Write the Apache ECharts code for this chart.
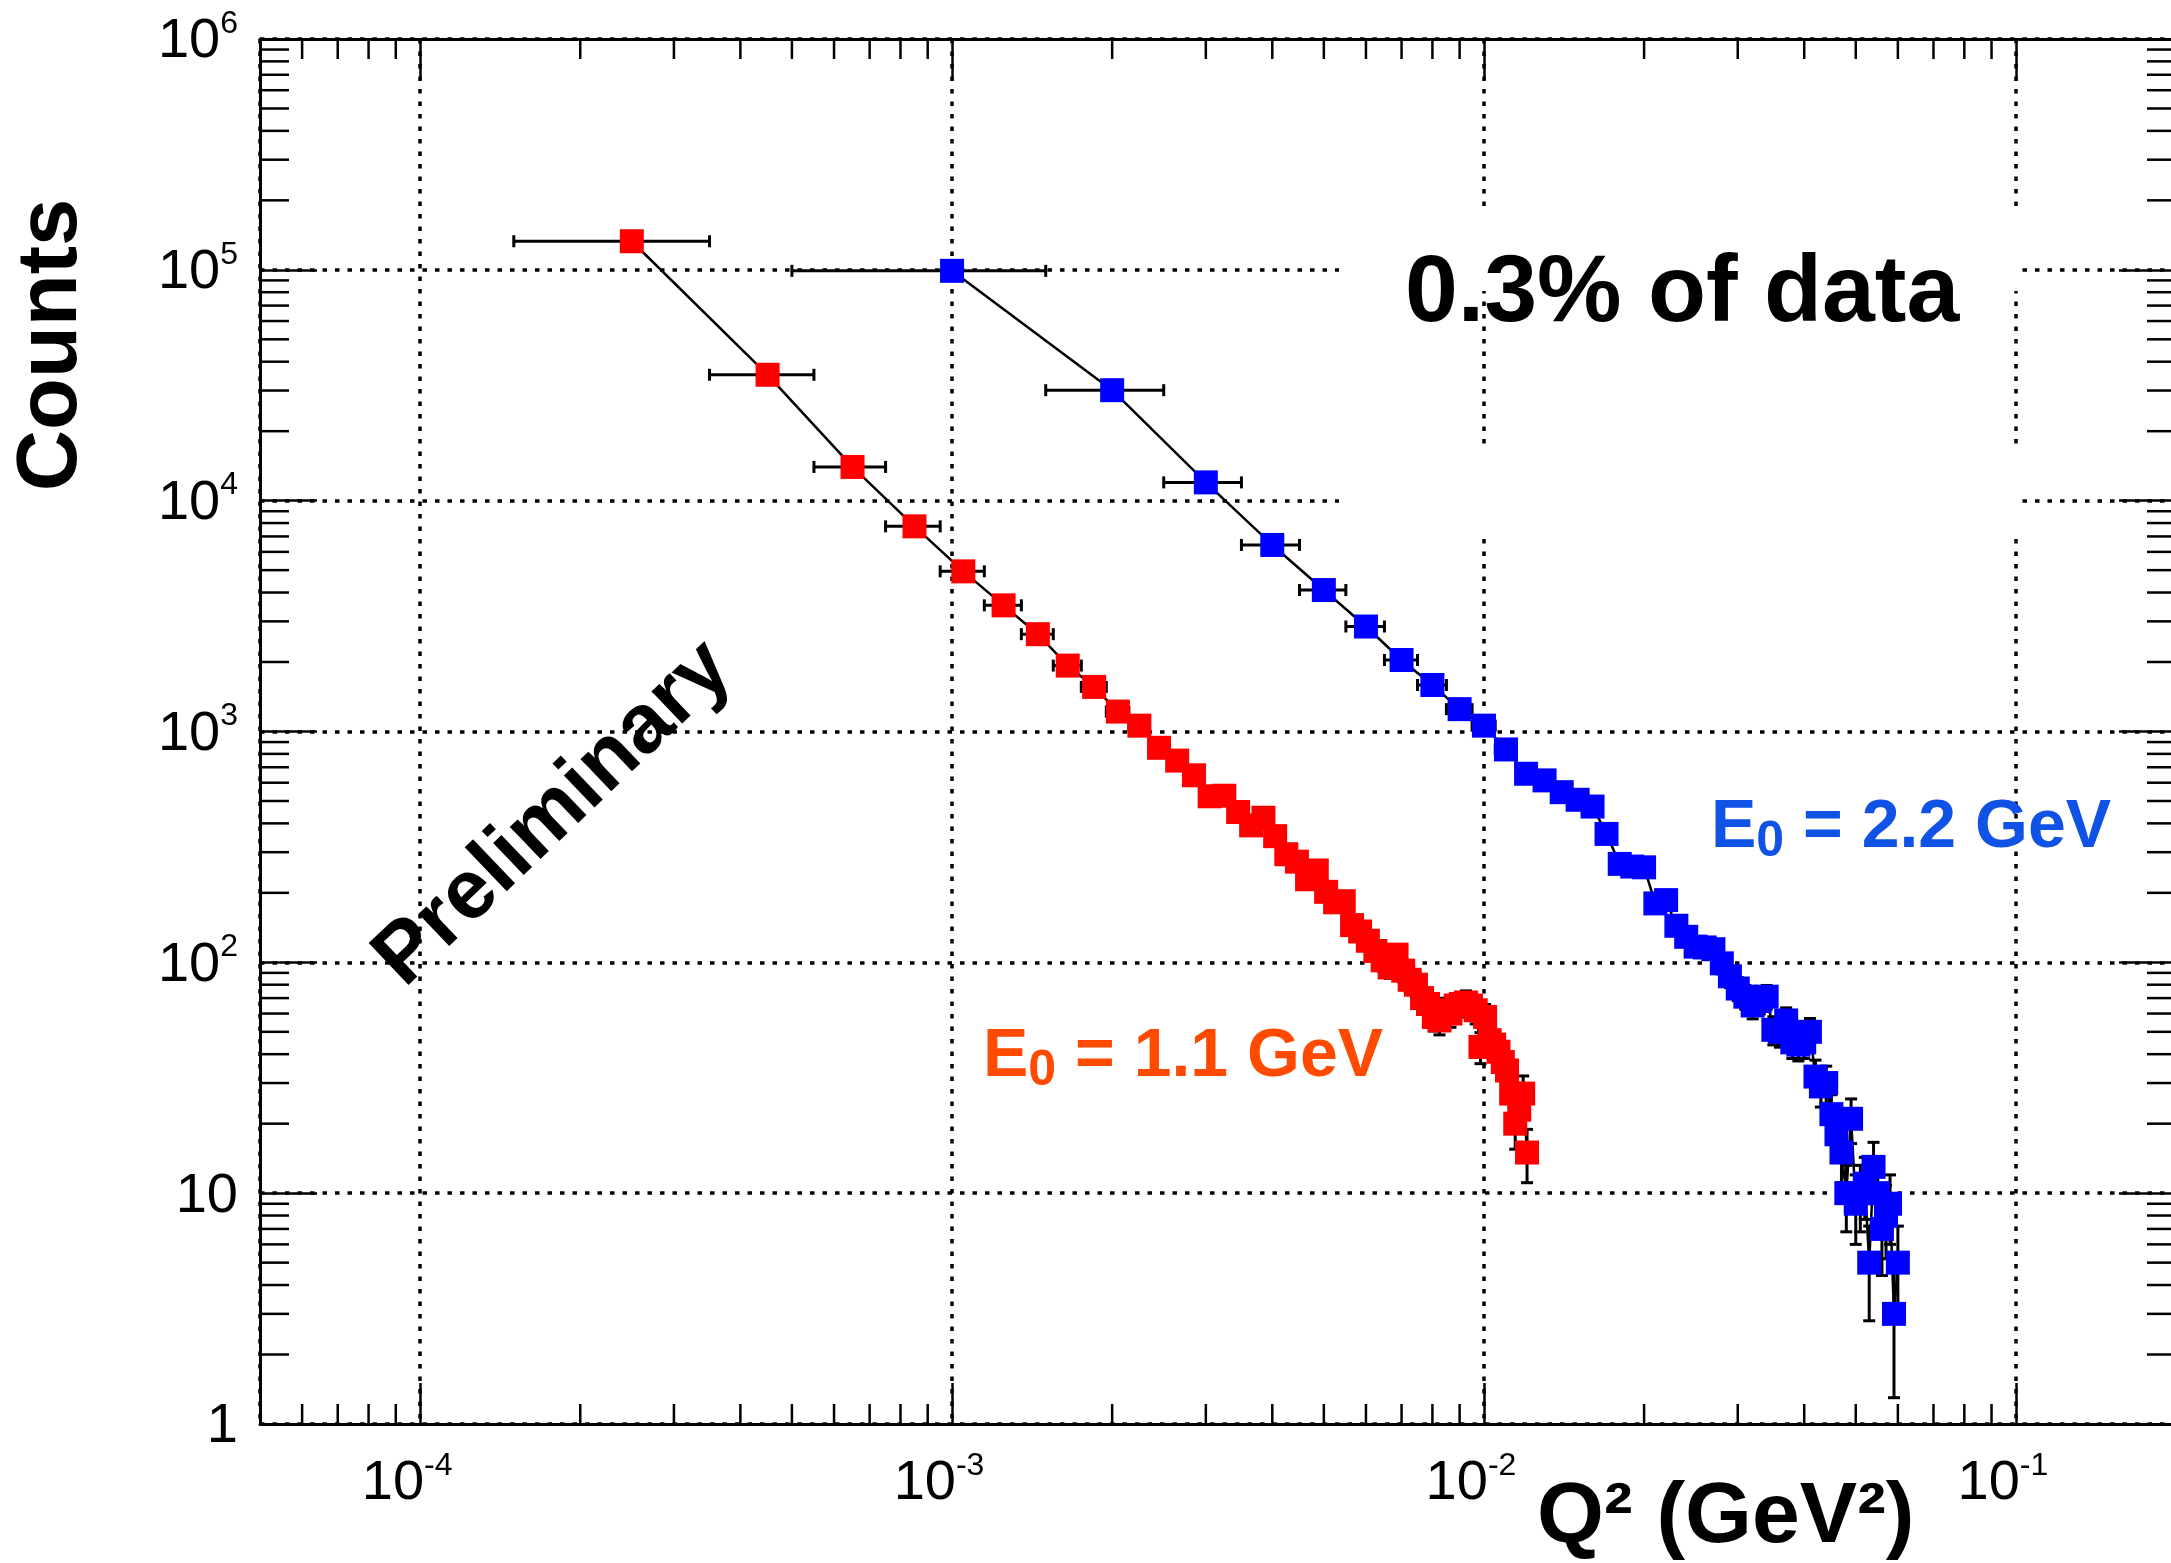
<!DOCTYPE html>
<html>
<head>
<meta charset="utf-8">
<title>Counts vs Q2</title>
<script src="https://cdn.jsdelivr.net/npm/echarts@6/dist/echarts.min.js"></script>
<style>
  html, body { margin: 0; padding: 0; background: #fff; }
  #chart { width: 2171px; height: 1563px; }
</style>
</head>
<body>
<div id="chart"></div>
<script>
// E0 = 1.1 GeV : bin centres (GeV^2), counts, vertical errors
const q2Low = [
  0.00025, 0.00045, 0.00065, 0.00085, 0.00105, 0.00125, 0.00145, 0.00165, 0.00185, 0.00205,
  0.00225, 0.00245, 0.00265, 0.00285, 0.00305, 0.00325, 0.00345, 0.00365, 0.00385, 0.00405,
  0.00425, 0.00445, 0.00465, 0.00485, 0.00505, 0.00525, 0.00545, 0.00565, 0.00585, 0.00605,
  0.00625, 0.00645, 0.00665, 0.00685, 0.00705, 0.00725, 0.00745, 0.00765, 0.00785, 0.00805,
  0.00825, 0.00845, 0.00865, 0.00885, 0.00905, 0.00925, 0.00945, 0.00965, 0.00985, 0.01005,
  0.01025, 0.01045, 0.01065, 0.01085, 0.01105, 0.01125, 0.01145, 0.01165, 0.01185, 0.01205
];
const countsLow = [
  133000, 35100, 14000, 7740, 4940, 3520, 2640, 1930, 1560, 1220,
  1060, 850, 748, 646, 524, 527, 448, 392, 423, 352,
  294, 273, 229, 250, 202, 182, 184, 145, 136, 124,
  112, 102, 95, 108, 92, 84, 80, 70, 66, 58,
  56, 62, 60, 65, 66, 67, 65, 62, 43, 58,
  46, 44, 41, 37, 34, 27, 20, 23, 27, 15
];
const errLow = [
  365, 187, 118, 88, 70, 59, 51, 44, 39.5, 35,
  32.6, 29.2, 27.3, 25.4, 22.9, 23, 21.2, 19.8, 20.6, 18.8,
  17.1, 16.5, 15.1, 15.8, 14.2, 13.5, 13.6, 12, 11.7, 11.1,
  10.6, 10.1, 9.7, 10.4, 9.6, 9.2, 8.9, 8.4, 8.1, 7.6,
  7.5, 7.9, 7.7, 8.1, 8.1, 8.2, 8.1, 7.9, 6.6, 7.6,
  6.8, 6.6, 6.4, 6.1, 5.8, 5.2, 4.5, 4.8, 5.2, 3.9
];

// E0 = 2.2 GeV
const q2High = [
  0.001, 0.002, 0.003, 0.004, 0.005, 0.006, 0.007, 0.008, 0.009, 0.010,
  0.011, 0.012, 0.013, 0.014, 0.015, 0.016, 0.017, 0.018, 0.019, 0.020,
  0.021, 0.022, 0.023, 0.024, 0.025, 0.026, 0.027, 0.028, 0.029, 0.030,
  0.031, 0.032, 0.033, 0.034, 0.035, 0.036, 0.037, 0.038, 0.039, 0.040,
  0.041, 0.042, 0.043, 0.044, 0.045, 0.046, 0.047, 0.048, 0.049, 0.050,
  0.051, 0.052, 0.053, 0.054, 0.055, 0.056, 0.057, 0.058, 0.059, 0.060
];
const countsHigh = [
  99000, 30100, 12000, 6430, 4100, 2850, 2040, 1590, 1250, 1060,
  836, 656, 614, 546, 506, 473, 360, 267, 260, 258,
  180, 186, 144, 129, 117, 116, 114, 99, 87, 77,
  71, 65, 68, 71, 51, 50, 56, 45, 44, 45,
  50, 32, 29, 30, 22, 18, 15, 10, 21, 9,
  10, 11, 5, 13, 10, 7, 8, 9, 3, 5
];
const errHigh = [
  315, 173, 110, 80, 64, 53, 45, 40, 35, 32.6,
  28.9, 25.6, 24.8, 23.4, 22.5, 21.7, 19, 16.3, 16.1, 16.1,
  13.4, 13.6, 12, 11.4, 10.8, 10.8, 10.7, 9.9, 9.3, 8.8,
  8.4, 8.1, 8.2, 8.4, 7.1, 7.1, 7.5, 6.7, 6.6, 6.7,
  7.1, 5.7, 5.4, 5.5, 4.7, 4.2, 3.9, 3.2, 4.6, 3,
  3.2, 3.3, 2.2, 3.6, 3.2, 2.6, 2.8, 3, 1.7, 2.2
];

// half bin widths (horizontal error bars)
const halfBinLow = 0.0001;
const halfBinHigh = 0.0005;

const yPlainLabels = { 1: '1', 10: '10' };

const FONT = '"Liberation Sans", Arial, Helvetica, sans-serif';
const X_MIN = 5e-5, X_MAX = 0.2, Y_MIN = 1, Y_MAX = 1e6;

const chart = echarts.init(document.getElementById('chart'));

function minorValues(lo, hi) {
  const out = [];
  for (let e = Math.floor(Math.log10(lo)); e <= Math.ceil(Math.log10(hi)); e++) {
    for (let m = 2; m <= 9; m++) {
      const v = m * Math.pow(10, e);
      if (v > lo * 1.0001 && v < hi * 0.9999) out.push(v);
    }
  }
  return out;
}

function seg(x1, y1, x2, y2, w) {
  return { type: 'line', shape: { x1, y1, x2, y2 }, style: { stroke: '#000', lineWidth: w || 2.5 } };
}

function errorBars(halfBin) {
  return function (params, api) {
    const x = api.value(0), y = api.value(1), e = api.value(2);
    const l = api.coord([x - halfBin, y]);
    const r = api.coord([x + halfBin, y]);
    const t = api.coord([x, y + e]);
    const b = api.coord([x, Math.max(y - e, Y_MIN)]);
    const c = 6;
    return {
      type: 'group',
      children: [
        seg(l[0], l[1], r[0], r[1], 3),
        seg(l[0], l[1] - c, l[0], l[1] + c, 3),
        seg(r[0], r[1] - c, r[0], r[1] + c, 3),
        seg(t[0], t[1], b[0], b[1], 3),
        seg(t[0] - c, t[1], t[0] + c, t[1], 3),
        seg(b[0] - c, b[1], b[0] + c, b[1], 3)
      ]
    };
  };
}

function xMinorTicks(params, api) {
  const v = api.value(0);
  const b = api.coord([v, Y_MIN]);
  const t = api.coord([v, Y_MAX]);
  return { type: 'group', children: [seg(b[0], b[1], b[0], b[1] - 20), seg(t[0], t[1], t[0], t[1] + 20)] };
}

function yMinorTicks(params, api) {
  const v = api.value(1);
  const l = api.coord([X_MIN, v]);
  const r = api.coord([X_MAX, v]);
  return { type: 'group', children: [seg(l[0], l[1], l[0] + 29, l[1]), seg(r[0], r[1], r[0] - 29, r[1])] };
}

const supRich = {
  b: { fontSize: 56, fontFamily: FONT, color: '#000', verticalAlign: 'bottom', padding: [6, 0, 0, 0] },
  s: { fontSize: 32, fontFamily: FONT, color: '#000', verticalAlign: 'top' }
};

function powLabel(v) {
  const k = Math.round(Math.log10(v));
  return '{b|10}{s|' + k + '}';
}

const gridDots = { color: '#000', width: 3.5, type: [4.5, 8] };
const frameLine = { show: true, lineStyle: { color: '#000', width: 3 } };

chart.setOption({
  animation: false,
  backgroundColor: '#fff',
  grid: { left: 260, top: 39, width: 1916, height: 1385, containLabel: false, outerBoundsMode: 'none' },
  xAxis: [
    {
      type: 'log', logBase: 10, min: X_MIN, max: X_MAX, position: 'bottom',
      axisLine: frameLine,
      axisTick: { inside: true, length: 41, lineStyle: { color: '#000', width: 2.5 } },
      axisLabel: {
        margin: 26, formatter: powLabel, rich: supRich, padding: [0, 26, 0, 0],
        showMinLabel: false, showMaxLabel: false
      },
      splitLine: { show: true, lineStyle: gridDots }
    },
    {
      type: 'log', logBase: 10, min: X_MIN, max: X_MAX, position: 'top',
      axisLine: frameLine,
      axisTick: { inside: true, length: 41, lineStyle: { color: '#000', width: 2.5 } },
      axisLabel: { show: false },
      splitLine: { show: false }
    }
  ],
  yAxis: [
    {
      type: 'log', logBase: 10, min: Y_MIN, max: Y_MAX, position: 'left',
      axisLine: frameLine,
      axisTick: { inside: true, length: 57, lineStyle: { color: '#000', width: 2.5 } },
      axisLabel: {
        margin: 22,
        formatter: v => yPlainLabels[v] ? '{b|' + yPlainLabels[v] + '}' : powLabel(v),
        rich: supRich
      },
      splitLine: { show: true, lineStyle: gridDots }
    },
    {
      type: 'log', logBase: 10, min: Y_MIN, max: Y_MAX, position: 'right',
      axisLine: frameLine,
      axisTick: { inside: true, length: 57, lineStyle: { color: '#000', width: 2.5 } },
      axisLabel: { show: false },
      splitLine: { show: false }
    }
  ],
  graphic: [
    { type: 'rect', z: 1, shape: { x: 1339, y: 207, width: 679, height: 84 }, style: { fill: '#fff' } },
    { type: 'rect', z: 1, shape: { x: 1339, y: 447, width: 679, height: 88 }, style: { fill: '#fff' } },
    {
      type: 'text', z: 10, x: 1405, y: 295,
      style: { text: '0.3% of data', font: 'bold 95px ' + FONT, fill: '#000', align: 'left', verticalAlign: 'middle' }
    },
    {
      type: 'text', z: 10, x: 53, y: 345, rotation: Math.PI / 2,
      style: { text: 'Counts', font: 'bold 85px ' + FONT, fill: '#000', align: 'center', verticalAlign: 'middle' }
    },
    {
      type: 'text', z: 10, x: 1537, y: 1518,
      style: { text: 'Q² (GeV²)', font: 'bold 86px ' + FONT, fill: '#000', align: 'left', verticalAlign: 'middle' }
    },
    {
      type: 'text', z: 10, x: 554, y: 814, rotation: 43.7 * Math.PI / 180,
      style: { text: 'Preliminary', font: 'bold 84px ' + FONT, fill: '#000', align: 'center', verticalAlign: 'middle' }
    },
    {
      type: 'text', z: 10, x: 983, y: 1060,
      style: {
        text: '{a|E}{s|0}{a| = 1.1 GeV}', align: 'left', verticalAlign: 'middle',
        rich: {
          a: { font: 'bold 68px ' + FONT, fill: '#ff4a00', verticalAlign: 'bottom', padding: [0, 0, 5, 0] },
          s: { font: 'bold 50px ' + FONT, fill: '#ff4a00', verticalAlign: 'bottom' }
        }
      }
    },
    {
      type: 'text', z: 10, x: 1711, y: 831,
      style: {
        text: '{a|E}{s|0}{a| = 2.2 GeV}', align: 'left', verticalAlign: 'middle',
        rich: {
          a: { font: 'bold 68px ' + FONT, fill: '#1152e6', verticalAlign: 'bottom', padding: [0, 0, 5, 0] },
          s: { font: 'bold 50px ' + FONT, fill: '#1152e6', verticalAlign: 'bottom' }
        }
      }
    }
  ],
  series: [
    {
      type: 'custom', name: 'xMinor', silent: true, clip: false, z: 1,
      renderItem: xMinorTicks, data: minorValues(X_MIN, X_MAX).map(v => [v, Y_MIN])
    },
    {
      type: 'custom', name: 'yMinor', silent: true, clip: false, z: 1,
      renderItem: yMinorTicks, data: minorValues(Y_MIN, Y_MAX).map(v => [X_MIN, v])
    },
    {
      type: 'custom', name: 'errLow', silent: true, z: 2,
      renderItem: errorBars(halfBinLow), data: q2Low.map((q, i) => [q, countsLow[i], errLow[i]])
    },
    {
      type: 'custom', name: 'errHigh', silent: true, z: 2,
      renderItem: errorBars(halfBinHigh), data: q2High.map((q, i) => [q, countsHigh[i], errHigh[i]])
    },
    {
      type: 'line', name: 'E0 = 1.1 GeV', z: 3,
      data: q2Low.map((q, i) => [q, countsLow[i]]),
      symbol: 'rect', symbolSize: 24, showAllSymbol: true,
      itemStyle: { color: '#ff0000', borderWidth: 0 },
      lineStyle: { color: '#000', width: 2.5 }
    },
    {
      type: 'line', name: 'E0 = 2.2 GeV', z: 3,
      data: q2High.map((q, i) => [q, countsHigh[i]]),
      symbol: 'rect', symbolSize: 24, showAllSymbol: true,
      itemStyle: { color: '#0000ff', borderWidth: 0 },
      lineStyle: { color: '#000', width: 2.5 }
    }
  ]
});
</script>
</body>
</html>
